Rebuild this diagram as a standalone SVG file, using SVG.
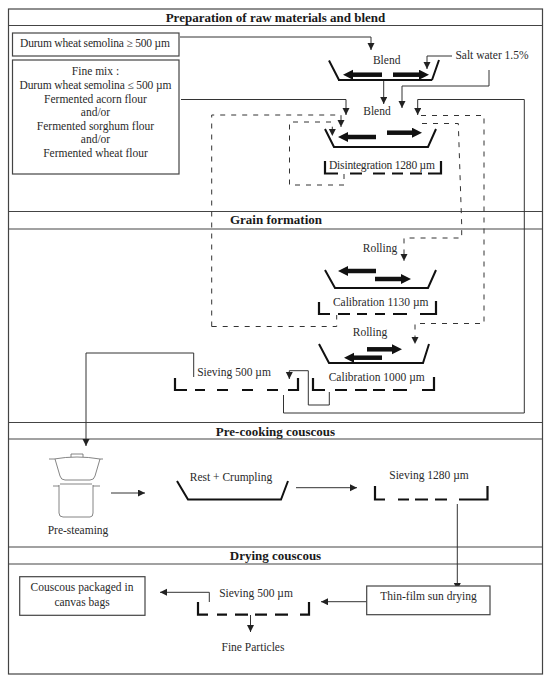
<svg xmlns="http://www.w3.org/2000/svg" width="550" height="682" viewBox="0 0 550 682">
<style>
text{font-family:"Liberation Serif","Times New Roman",serif;font-size:11.5px;fill:#2a2a2a;text-anchor:middle}
.title{font-size:13px;font-weight:bold;fill:#1a1a1a}
.frame{fill:none;stroke:#444;stroke-width:1.2}
.box{fill:#fff;stroke:#444;stroke-width:1.2}
.bowl{fill:none;stroke:#111;stroke-width:2}
.sieve{fill:none;stroke:#111;stroke-width:2.2}
.thin{fill:none;stroke:#333;stroke-width:1}
.dash{fill:none;stroke:#333;stroke-width:1;stroke-dasharray:5 6}
.tip{fill:none;stroke:#333;stroke-width:1;marker-end:url(#a)}
.dtip{fill:none;stroke:#333;stroke-width:1;stroke-dasharray:5 6;marker-end:url(#a)}
.big{stroke:#111;stroke-width:4.5;marker-end:url(#b)}
.pot{fill:none;stroke:#666;stroke-width:0.8}
</style>
<defs>
<marker id="a" markerUnits="userSpaceOnUse" markerWidth="8" markerHeight="8" refX="7" refY="3.5" orient="auto"><path d="M0 0L7 3.5L0 7Z" fill="#222"/></marker>
<marker id="b" markerUnits="userSpaceOnUse" markerWidth="12" markerHeight="12" refX="0" refY="5" orient="auto"><path d="M0 0L10 5L0 10Z" fill="#111"/></marker>
</defs>
<rect width="550" height="682" fill="#fff"/>
<g id="frame">
<rect class="frame" x="8.5" y="9" width="534" height="665"/>
<path class="frame" d="M8.5 25.5H542.5M8.5 211.5H542.5M8.5 229H542.5M8.5 422.5H542.5M8.5 439H542.5M8.5 547H542.5M8.5 564H542.5"/>
<text class="title" x="275.5" y="22">Preparation of raw materials and blend</text>
<text class="title" x="276" y="224">Grain formation</text>
<text class="title" x="275.5" y="435.5">Pre-cooking couscous</text>
<text class="title" x="275.5" y="560">Drying couscous</text>
</g>
<g id="connectors">
<path class="tip" d="M180 37H371V50"/>
<path class="tip" d="M452 56H427V69"/>
<path class="tip" d="M489 70V86H402V108"/>
<path class="tip" d="M383.7 81V104"/>
<path class="tip" d="M181 99.5H346V115"/>
<path class="tip" d="M283.5 395V413H524.3V99.5H417.7V115"/>
<path class="dtip" d="M211.7 326.5V115H341V127"/>
<path class="dash" d="M211.7 326.5H336.7V315"/>
<path class="dtip" d="M344 174V185H289.5V122H332.3V136"/>
<path class="dtip" d="M421 115.5H484V323.5H415V344"/>
<path class="dtip" d="M422 123.5H458.3L461.7 225V238H404V261"/>
<path class="tip" d="M193.7 377V353H86V446"/>
<path class="tip" d="M329.3 392V405H308.3V370.7H289.3V379"/>
<path class="tip" d="M111 493H145"/>
<path class="tip" d="M296 487.7H357"/>
<path class="tip" d="M457.3 504V590"/>
<path class="tip" d="M366.7 601.7H321"/>
<path class="tip" d="M209.3 602V592.3H160"/>
<path class="tip" d="M250.5 615V632"/>
</g>
<g id="durum"><rect class="box" x="12.5" y="33" width="166.5" height="23"/><text x="95" y="47" textLength="150">Durum wheat semolina ≥ 500 µm</text></g>
<g id="fine-mix"><rect class="box" x="12.5" y="60" width="166.5" height="114"/>
<text x="95.5" y="74.5">Fine mix :</text><text x="95.5" y="88.5" textLength="152">Durum wheat semolina ≤ 500 µm</text><text x="95.5" y="102.5">Fermented acorn flour</text><text x="95.5" y="116">and/or</text><text x="95.5" y="129.5">Fermented sorghum flour</text><text x="95.5" y="143">and/or</text><text x="95.5" y="157">Fermented wheat flour</text></g>
<g id="salt-water"><text x="492" y="59">Salt water 1.5%</text></g>
<g id="blend-1"><text x="386.7" y="64">Blend</text><path class="bowl" d="M329 60.5L339 80M338 80H432M439 60L432 80"/><line class="big" x1="382" y1="74.7" x2="353" y2="74.7"/><line class="big" x1="393" y1="74.7" x2="419" y2="74.7"/></g>
<g id="blend-2"><text x="377" y="114.5">Blend</text><path class="bowl" d="M325 129L334 147H428L436 129"/><line class="big" x1="376" y1="137" x2="348" y2="137"/><line class="big" x1="387" y1="132.7" x2="412" y2="132.7"/></g>
<g id="disintegration"><text x="382" y="169" textLength="106">Disintegration 1280 µm</text><path class="sieve" d="M325 161V173.5H338M350 173.5H362M373 173.5H385M392 173.5H403M410 173.5H422M428 173.5H441V161"/></g>
<g id="rolling-1"><text x="380" y="252">Rolling</text></g>
<g id="bowl-3"><path class="bowl" d="M325 270L335 288H428L436 270"/><line class="big" x1="376" y1="271" x2="348" y2="271"/><line class="big" x1="375" y1="279" x2="401" y2="279"/></g>
<g id="calibration-1130"><text x="380.7" y="306">Calibration 1130 µm</text><path class="sieve" d="M319 302V314H330M338 314H350M357 314H367M375 314H385M393 314H407M420 314H436V301"/></g>
<g id="rolling-2"><text x="370" y="336">Rolling</text></g>
<g id="bowl-4"><path class="bowl" d="M319 344L329 363H423L429 344"/><line class="big" x1="367" y1="349.3" x2="392" y2="349.3"/><line class="big" x1="382" y1="357.7" x2="354" y2="357.7"/></g>
<g id="calibration-1000"><text x="376.7" y="381">Calibration 1000 µm</text><path class="sieve" d="M313 378V390H325M335 390H347M355 390H367M373 390H385M393 390H407M422 390H434V377"/></g>
<g id="sieving-500-a"><text x="234" y="376">Sieving 500 µm</text><path class="sieve" d="M175 378V390H187M195 390H205M217 390H228M242 390H253M267 390H278M288 390H298V378"/></g>
<g id="pre-steaming">
<path class="pot" d="M54 459Q77 455 100 459M55 459L60 476Q61 480 65 480H90Q94 480 95 476L100 459M71 457V454H83V457M49 459H54M100 459H103M60 484H92M59 485V513Q59 517 63 517H90Q93 517 93 513V485M53 486H59M93 486H100"/>
<text x="78" y="534">Pre-steaming</text></g>
<g id="rest-crumpling"><text x="231" y="480.5">Rest + Crumpling</text><path class="bowl" d="M177 481L188 499.5H281L288 481"/></g>
<g id="sieving-1280"><text x="429" y="479">Sieving 1280 µm</text><path class="sieve" d="M375 486V499.5H385M398 499.5H409M415 499.5H428M435 499.5H447M459 499.5H487.5V486"/></g>
<g id="thin-film"><rect class="box" x="366.7" y="586" width="123.3" height="28.7"/><text x="428.5" y="600">Thin-film sun drying</text></g>
<g id="sieving-500-b"><text x="256" y="596.5">Sieving 500 µm</text><path class="sieve" d="M198 602V614.7H208M217 614.7H227M235 614.7H248M255 614.7H267M275 614.7H288M300 614.7H309V602"/></g>
<g id="fine-particles"><text x="253" y="650.5">Fine Particles</text></g>
<g id="packaged"><rect class="box" x="19.7" y="576.7" width="125.3" height="38.6"/><text x="82" y="591">Couscous packaged in</text><text x="82" y="605.5">canvas bags</text></g>
</svg>
